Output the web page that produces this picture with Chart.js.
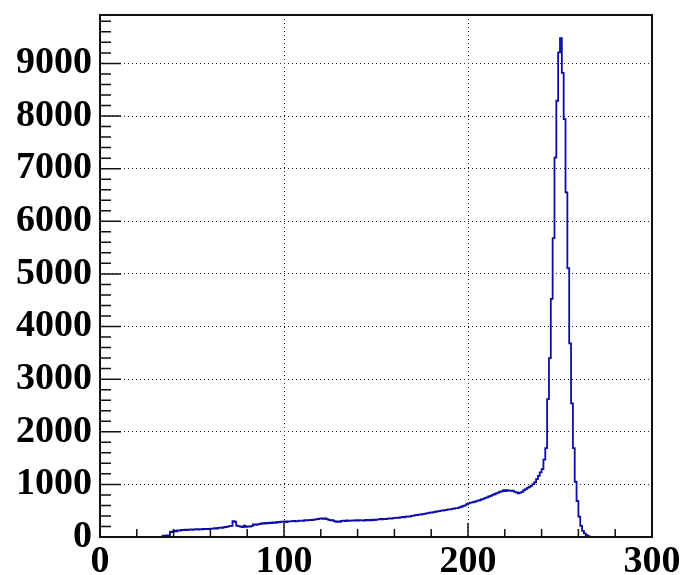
<!DOCTYPE html>
<html>
<head>
<meta charset="utf-8">
<script src="https://cdn.jsdelivr.net/npm/chart.js@4"></script>
<style>
  body { margin: 0; background: #fff; }
  canvas { display: block; }
</style>
</head>
<body>
<canvas id="histo" width="684" height="575"></canvas>
<script>
// histogram counts, one entry per bin of width 1 (bins 0..299)
const counts = [
    0, 0, 0, 0, 0, 0, 0, 0, 0, 0,
    0, 0, 0, 0, 0, 0, 0, 0, 0, 0,
    0, 0, 0, 0, 0, 0, 0, 0, 0, 0,
    0, 0, 0, 0, 25, 25, 30, 30, 95, 100,
    120, 105, 125, 120, 135, 130, 140, 132, 140, 145,
    138, 145, 150, 142, 150, 146, 155, 148, 155, 150,
    160, 158, 168, 160, 172, 178, 172, 185, 190, 198,
    205, 212, 300, 290, 215, 205, 196, 188, 215, 192,
    200, 196, 208, 240, 232, 238, 245, 252, 262, 255,
    268, 260, 272, 266, 278, 270, 286, 280, 290, 288,
    295, 285, 298, 296, 302, 306, 298, 302, 310, 312,
    308, 318, 315, 322, 326, 320, 332, 336, 342, 348,
    352, 344, 354, 338, 326, 316, 322, 300, 288, 296,
    290, 306, 312, 302, 314, 306, 312, 316, 310, 320,
    314, 322, 316, 310, 324, 316, 326, 318, 330, 322,
    332, 336, 342, 336, 346, 340, 350, 354, 348, 360,
    362, 370, 364, 374, 380, 372, 388, 392, 386, 400,
    406, 414, 418, 424, 428, 436, 440, 450, 455, 462,
    466, 474, 480, 488, 490, 500, 504, 512, 514, 524,
    526, 536, 540, 550, 550, 562, 575, 592, 602, 622,
    640, 652, 658, 670, 676, 692, 698, 714, 726, 744,
    752, 770, 782, 800, 812, 830, 842, 860, 868, 888,
    874, 892, 880, 878, 882, 858, 848, 828, 842, 858,
    888, 908, 932, 952, 978, 1005, 1040, 1100, 1160, 1230,
    1290, 1470, 1690, 2620, 3400, 4525, 5680, 7210, 8290, 9210,
    9480, 8820, 7940, 6550, 5110, 3680, 2540, 1690, 1050, 684,
    386, 210, 115, 70, 35, 15, 0, 0, 0, 0,
    0, 0, 0, 0, 0, 0, 0, 0, 0, 0,
    0, 0, 0, 0, 0, 0, 0, 0, 0, 0,
    0, 0, 0, 0, 0, 0, 0, 0, 0, 0
];
const xRange = [0, 300];
const xTicks = [0, 100, 200, 300];
const yTicks = [0, 1000, 2000, 3000, 4000, 5000, 6000, 7000, 8000, 9000];
const yMax = 9920;

// points at bin low edges, plus closing point at the upper edge
const points = counts.map((c, i) => ({ x: xRange[0] + i, y: c }));
points.push({ x: xRange[1], y: counts[counts.length - 1] });

const axisFont = { family: '"Liberation Serif", "Times New Roman", serif', size: 38, weight: 'bold' };

// frame and inward ticks, ROOT style, drawn over the histogram
const rootFrame = {
    id: 'rootFrame',
    afterDatasetsDraw(chart) {
        const { ctx, chartArea: a, scales } = chart;
        const sx = scales.x, sy = scales.y;
        ctx.save();
        ctx.strokeStyle = '#111';
        ctx.lineWidth = 1.5;
        ctx.beginPath();
        for (let v = xRange[0]; v <= xRange[1]; v += 20) {
            const px = sx.getPixelForValue(v);
            const len = v % 100 === 0 ? 14 : 8;
            ctx.moveTo(px, a.bottom);
            ctx.lineTo(px, a.bottom - len);
        }
        for (let v = 0; v <= yMax; v += 200) {
            const py = sy.getPixelForValue(v);
            const len = v % 1000 === 0 ? 21 : 11;
            ctx.moveTo(a.left, py);
            ctx.lineTo(a.left + len, py);
        }
        ctx.stroke();
        ctx.lineWidth = 2;
        ctx.strokeRect(a.left, a.top, a.right - a.left, a.bottom - a.top);
        ctx.restore();
    }
};

new Chart("histo", {
    type: "line",
    data: {
        datasets: [
            {
                data: points,
                stepped: 'before',
                borderColor: "#0c0ca8",
                borderWidth: 1.8,
                pointRadius: 0,
                fill: false
            }
        ]
    },
    options: {
        responsive: false,
        animation: false,
        layout: { padding: { left: 0, top: 15, right: 32, bottom: 0 } },
        plugins: { legend: { display: false }, tooltip: { enabled: false } },
        scales: {
            x: {
                type: 'linear',
                min: xRange[0],
                max: xRange[1],
                afterBuildTicks: s => { s.ticks = xTicks.map(v => ({ value: v })); },
                afterFit: s => { s.height = 38; s.paddingLeft = 0; s.paddingRight = 0; },
                ticks: {
                    font: axisFont, color: '#000', padding: 2, autoSkip: false, maxRotation: 0,
                    callback: v => String(v)
                },
                grid: {
                    drawTicks: false,
                    color: c => (c.tick && (c.tick.value === 100 || c.tick.value === 200)) ? '#222' : 'rgba(0,0,0,0)',
                    lineWidth: 1
                },
                border: { display: false, dash: [1, 3] }
            },
            y: {
                min: 0,
                max: yMax,
                afterBuildTicks: s => { s.ticks = yTicks.map(v => ({ value: v })); },
                afterFit: s => { s.width = 100; s.paddingTop = 0; s.paddingBottom = 0; },
                ticks: {
                    font: axisFont, color: '#000', padding: 8, autoSkip: false,
                    callback: v => String(v)
                },
                grid: {
                    drawTicks: false,
                    color: c => (c.tick && c.tick.value > 0) ? '#222' : 'rgba(0,0,0,0)',
                    lineWidth: 1
                },
                border: { display: false, dash: [1, 3] }
            }
        }
    },
    plugins: [rootFrame]
});
</script>
</body>
</html>
